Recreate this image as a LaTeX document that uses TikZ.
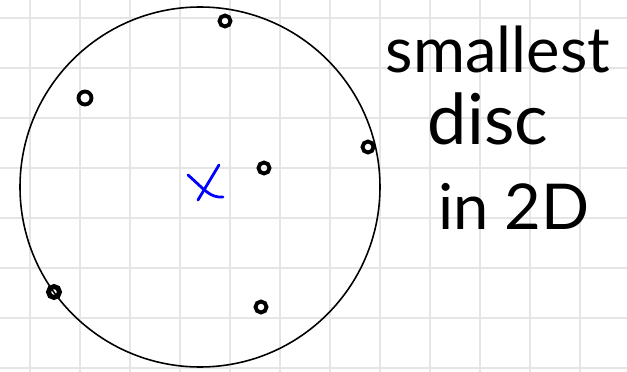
\documentclass[tikz,border=0pt]{standalone}
\usepackage{fontspec}
\setmainfont{Lato}
\usetikzlibrary{positioning}
\tikzset{
    gridline/.style={line width=1.1pt, black!10},
    disc/.style={line width=0.9pt, black},
    pt/.style={circle, draw=black, line width=2.2pt, minimum width=0.18cm, minimum height=0.22cm, inner sep=0pt},
    centre/.style={line width=1.6pt, blue, line cap=round},
    label/.style={anchor=base, inner sep=0pt, font=\fontsize{36}{40}\selectfont}
}

\begin{document}
\begin{tikzpicture}[x=0.02cm, y=-0.02cm]
\useasboundingbox (0,0) rectangle (627,372);
\fill[white] (0,0) rectangle (627,372);

\foreach \gx in {30,80,...,580} \draw[gridline] (\gx,0) -- (\gx,372);
\foreach \gy in {18,68,...,368} \draw[gridline] (0,\gy) -- (627,\gy);

\coordinate (O) at (200,187);
\draw[disc] (O) circle[radius=180];

\node[pt] (p1) at (225,21) {};
\node[pt, minimum width=0.26cm, minimum height=0.17cm] (p2) at (85,98) {};
\node[pt] (p3) at (368,147) {};
\node[pt] (p4) at (264,168) {};
\node[pt, line width=2.8pt] (p5) at (54,292) {};
\node[pt] (p6) at (261,307) {};

% centre mark
\coordinate (c1) at (188,175);
\coordinate (c2) at (223,197);
\coordinate (c3) at (219,165);
\coordinate (c4) at (198,200);
\draw[centre] (c1) .. controls (205,190) and (210,198) .. (c2);
\draw[centre] (c3) -- (c4);

\node[label] (l1) at (498,72) {smallest};
\node[label, font=\fontsize{40}{44}\selectfont] (l2) at (488,145) {disc};
\node[label] (l3) at (514,230) {in 2D};
\end{tikzpicture}
\end{document}
